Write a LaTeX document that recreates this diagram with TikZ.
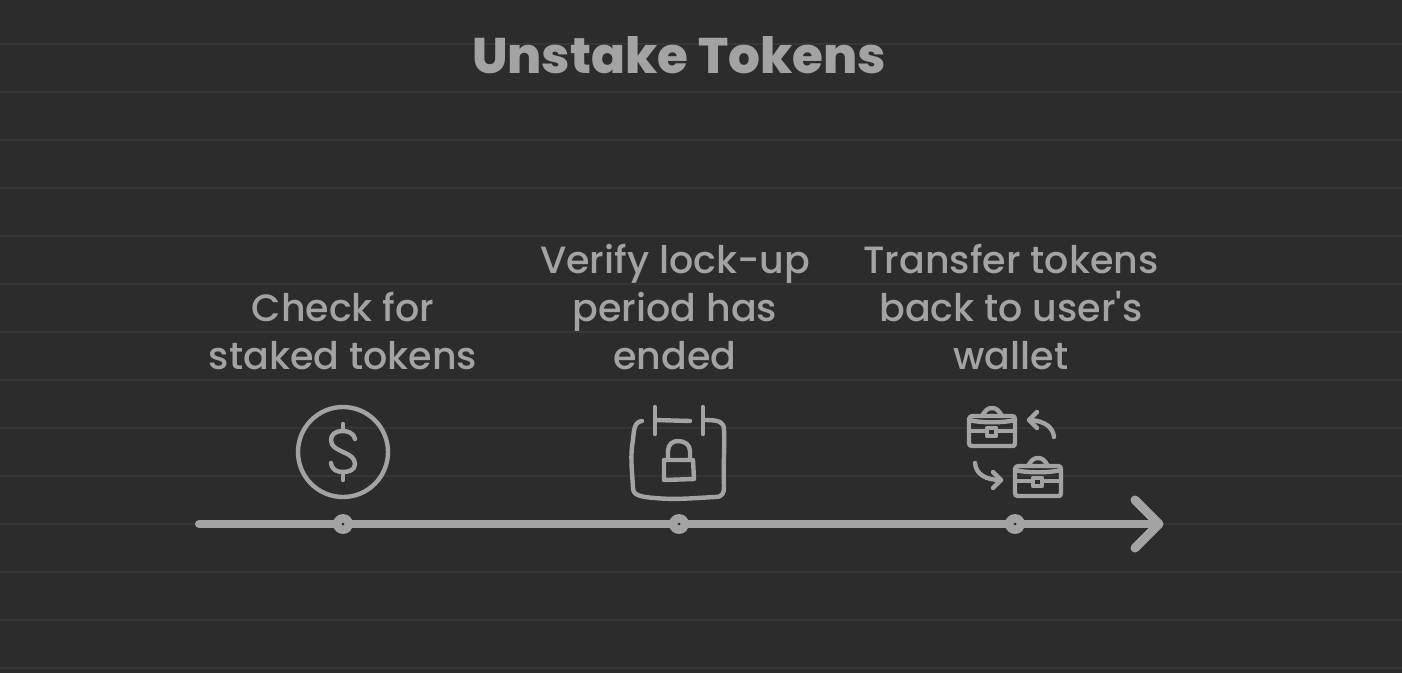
\documentclass[tikz,border=0pt]{standalone}
\usepackage{fontspec}
\setmainfont{Poppins}[UprightFont=* Medium,BoldFont=* ExtraBold]
\definecolor{bg}{HTML}{2C2C2C}
\definecolor{rule}{HTML}{363636}
\definecolor{ink}{HTML}{A3A3A3}
\begin{document}
\begin{tikzpicture}[x=1pt,y=-1pt,
  label text/.style={text=ink,align=center,font=\fontsize{38}{48}\selectfont,inner sep=0pt},
  title text/.style={text=ink,font=\bfseries\fontsize{50}{60}\selectfont,inner sep=0pt},
  icon/.style={draw=ink,line width=4.4pt,line cap=round,line join=round},
  axis/.style={draw=ink,line width=8pt,line cap=round,line join=round},
  tick dot/.style={circle,fill=ink,minimum size=20pt,inner sep=0pt},
  tick hole/.style={circle,fill=bg,minimum size=3pt,inner sep=0pt}]
\useasboundingbox (0,0) rectangle (1402,672);
\fill[bg] (-2,-2) rectangle (1404,674);
\foreach \yy in {44,92,...,668} \draw[rule,line width=2pt] (0,\yy) -- (1402,\yy);

\node[title text] (title) at (679,55) {Unstake Tokens};
\node[label text] (l1) at (343,331) {Check for\\staked tokens};
\node[label text] (l2) at (675,307) {Verify lock-up\\period has\\ended};
\node[label text] (l3) at (1011,307) {Transfer tokens\\back to user\textquotesingle s\\wallet};

% axis
\coordinate (start) at (199,524);
\coordinate (tip) at (1159,524);
\draw[axis] (start) -- (tip);
\draw[axis,line width=9pt] (1135,500) -- (tip) -- (1135,548);
\node[tick dot] (t1) at (343,524) {};
\node[tick dot] (t2) at (679,524) {};
\node[tick dot] (t3) at (1015,524) {};
\foreach \t in {t1,t2,t3} \node[tick hole] at (\t) {};

% dollar icon
\draw[icon] (343,452) circle (45);
\draw[icon] (343,424) -- (343,431);
\draw[icon] (343,473) -- (343,480);
\draw[icon] (355,439) .. controls (353,432) and (347,431) .. (342,431)
  .. controls (335,431) and (331,435) .. (331,440)
  .. controls (331,447) and (337,449) .. (343,452)
  .. controls (350,455) and (355,458) .. (355,464)
  .. controls (355,470) and (349,472) .. (343,472)
  .. controls (337,472) and (332,470) .. (331,463);

% calendar icon
\draw[icon] (642,421) .. controls (634,422) and (634,430) .. (633,440)
  .. controls (630,455) and (632,470) .. (633,488)
  .. controls (633,495) and (640,497) .. (655,498)
  .. controls (675,500) and (695,498) .. (715,497)
  .. controls (723,497) and (724,493) .. (724,486)
  .. controls (723,465) and (725,445) .. (724,430)
  .. controls (724,422) and (720,420) .. (704,420);
\draw[icon] (655,420) -- (690,421);
\draw[icon] (655,407) -- (655,434);
\draw[icon] (703,407) -- (703,434);
\draw[icon] (664,460) -- (693,460) -- (694,479) -- (664,480) -- cycle;
\draw[icon] (668,459) -- (668,451) .. controls (668,444) and (673,441) .. (678,441)
  .. controls (685,441) and (690,445) .. (690,451) -- (690,459);

% briefcases
\foreach \dx/\dy in {0/0,46/50}{
\begin{scope}[shift={(\dx,\dy)}]
\draw[icon] (973,416) -- (1012,416) .. controls (1014,416) and (1015,417) .. (1015,419)
  -- (1015,443) .. controls (1015,446) and (1014,446) .. (1012,446)
  -- (972,446) .. controls (970,446) and (969,445) .. (969,443)
  -- (969,419) .. controls (969,417) and (971,416) .. (973,416) -- cycle;
\draw[icon] (969,420) .. controls (980,423) and (1004,423) .. (1015,420);
\draw[icon] (969,431) -- (987,431);
\draw[icon] (997,431) -- (1015,431);
\draw[icon] (982,416) .. controls (985,411) and (987,408) .. (992,408)
  .. controls (997,408) and (999,411) .. (1002,416);
\draw[icon] (987,428) rectangle (996,436);
\end{scope}}

% swap arrows
\draw[icon] (1054,437) .. controls (1053,428) and (1046,421) .. (1030,420);
\draw[icon] (1037,412) -- (1029,420) -- (1037,428);
\draw[icon] (975,463) .. controls (976,474) and (985,480) .. (1001,480);
\draw[icon] (993,472) -- (1001,480) -- (993,488);
\end{tikzpicture}
\end{document}
